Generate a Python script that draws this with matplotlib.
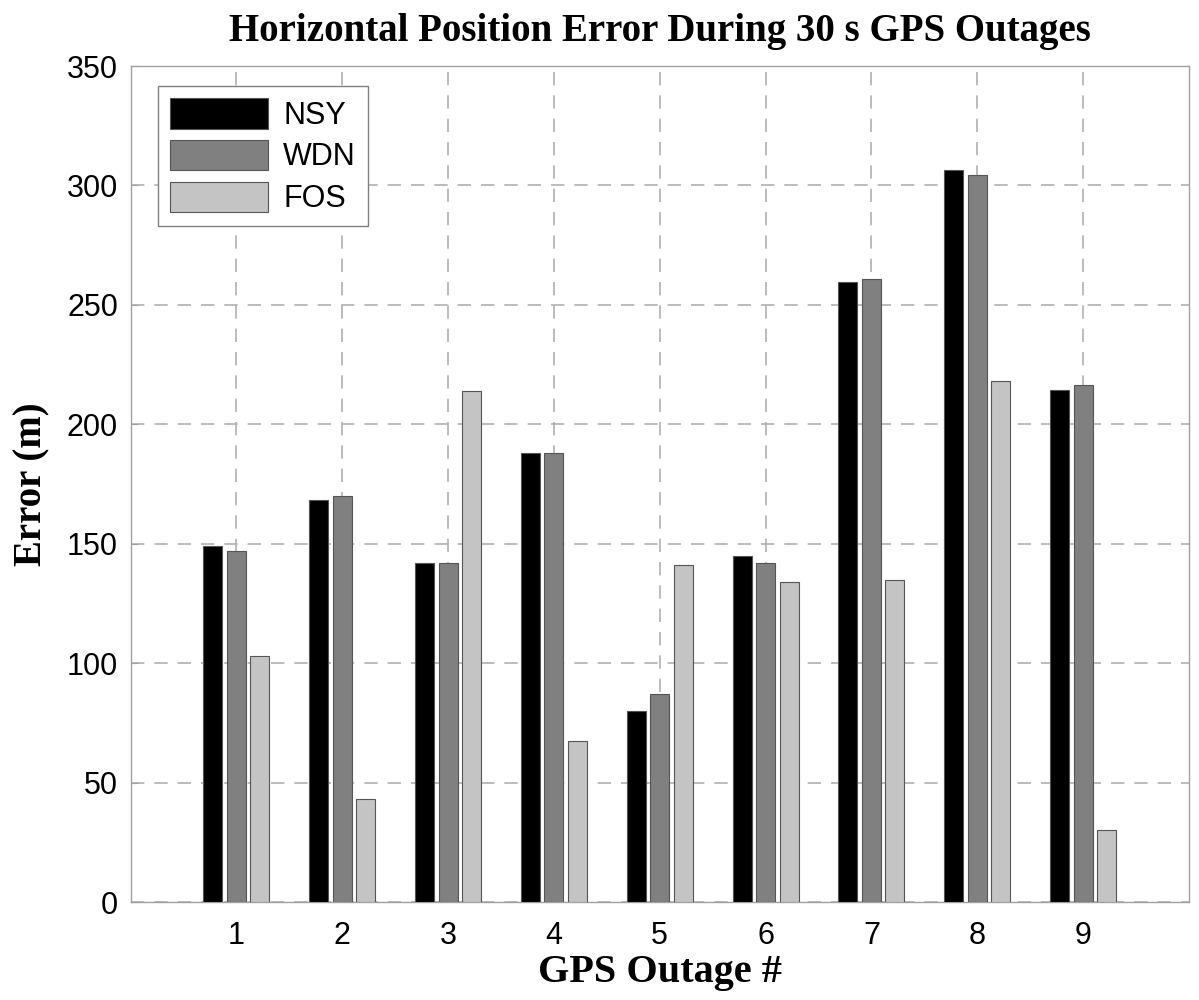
import matplotlib
matplotlib.use("Agg")
import matplotlib.pyplot as plt
import numpy as np

outages = [1, 2, 3, 4, 5, 6, 7, 8, 9]
nsy = [149, 168.5, 142, 188, 80, 145, 259.5, 306.5, 214.5]
wdn = [147, 170, 142, 188, 87, 142, 261, 304.5, 216.5]
fos = [103, 43, 214, 67.5, 141, 134, 135, 218, 30]
series_names = ["NSY", "WDN", "FOS"]
series_colors = ["#000000", "#808080", "#c4c4c4"]
yticks = [0, 50, 100, 150, 200, 250, 300, 350]

fig = plt.figure(figsize=(11.99, 10), dpi=100)
ax = fig.add_axes([130.5 / 1199, 1 - 902 / 1000, (1189 - 130.5) / 1199, (902 - 66) / 1000])

x = np.array(outages, dtype=float)
offset = 0.222
width = 0.18
for i, (vals, name, col) in enumerate(zip([nsy, wdn, fos], series_names, series_colors)):
    ax.bar(x + (i - 1) * offset, vals, width=width, color=col, edgecolor="#555555",
           linewidth=0.8, label=name, zorder=3)

ax.set_xlim(0, 10)
ax.set_ylim(0, 350)
ax.set_xticks(outages)
ax.set_yticks(yticks)
ax.grid(True, color="#b0b0b0", linestyle=(0, (8, 6)), linewidth=1.2, zorder=0)
for s in ax.spines.values():
    s.set_color("#a0a0a0")
    s.set_linewidth(1.0)
ax.tick_params(axis="both", direction="in", length=5, color="#a0a0a0", labelsize=22)
ax.tick_params(axis="x", pad=14)
ax.tick_params(axis="y", pad=9)
for lab in ax.get_xticklabels() + ax.get_yticklabels():
    lab.set_fontfamily("Liberation Sans")

ax.set_title("Horizontal Position Error During 30 s GPS Outages", fontsize=28,
             fontweight="bold", family="Liberation Serif", pad=18)
ax.set_xlabel("GPS Outage #", fontsize=29, fontweight="bold", family="Liberation Serif", labelpad=2)
ax.set_ylabel("Error (m)", fontsize=28, fontweight="bold", family="Liberation Serif", labelpad=12)

leg = ax.legend(loc="upper left", bbox_to_anchor=(0.026, 0.976), borderaxespad=0,
                fancybox=False, framealpha=1, edgecolor="#808080",
                prop={"family": "Liberation Sans", "size": 22},
                handlelength=3.2, handleheight=1.15, borderpad=0.4, labelspacing=0.3,
                handletextpad=0.5)
leg.get_frame().set_linewidth(1.0)

fig.savefig("out.png", dpi=100)
